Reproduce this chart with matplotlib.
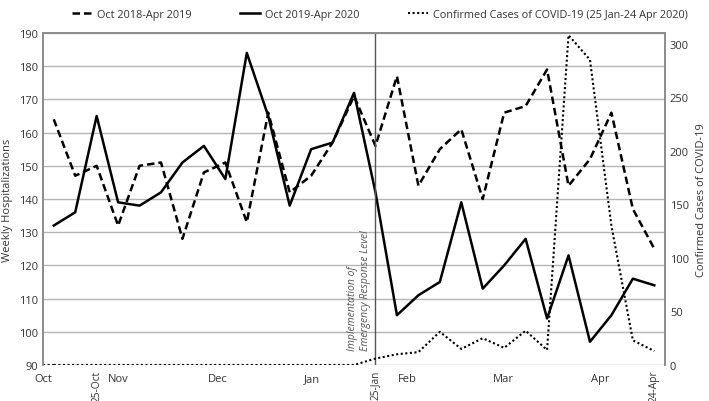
import matplotlib
matplotlib.use("Agg")
import matplotlib.pyplot as plt

plt.rcParams['font.family'] = ['Open Sans', 'DejaVu Sans']
plt.rcParams['font.size'] = 8

# weekly hospitalizations, week index 0..28
hosp_1819 = [164, 147, 150, 132, 150, 151, 128, 148, 151, 133, 166, 142, 147, 157, 171,
             156, 177, 144, 155, 161, 140, 166, 168, 179, 144, 152, 166, 137, 125]
hosp_1920 = [132, 136, 165, 139, 138, 142, 151, 156, 146, 184, 165, 138, 155, 157, 172,
             142, 105, 111, 115, 139, 113, 120, 128, 104, 123, 97, 105, 116, 114]
covid_cases = [0, 0, 0, 0, 0, 0, 0, 0, 0, 0, 0, 0, 0, 0, 0,
               6, 10, 12, 31, 15, 25, 16, 32, 14, 308, 285, 130, 23, 13]

month_pos = [-0.5, 3.0, 7.65, 12.05, 16.5, 20.95, 25.5]
month_labels = ['Oct', 'Nov', 'Dec', 'Jan', 'Feb', 'Mar', 'Apr']
date_pos = [2, 15, 28]
date_labels = ['25-Oct', '25-Jan', '24-Apr']

legend_labels = ['Oct 2018-Apr 2019', 'Oct 2019-Apr 2020',
                 'Confirmed Cases of COVID-19 (25 Jan-24 Apr 2020)']

weeks = list(range(len(hosp_1819)))
txt = '#333333'
spine = '#8c8c8c'

fig = plt.figure(figsize=(7.09, 4.02), dpi=100)
ax = fig.add_axes([0.0607, 0.0896, 0.8773, 0.8258])
ax2 = ax.twinx()

l1, = ax.plot(weeks, hosp_1819, color='black', lw=1.8, linestyle=(0, (3, 1.6)))
l2, = ax.plot(weeks, hosp_1920, color='black', lw=1.8)
l3, = ax2.plot(weeks, covid_cases, color='black', lw=1.5, linestyle=(0, (1, 1.2)))
# zero baseline of the case series runs back to the left edge
ax2.plot([-0.5, 0], [covid_cases[0], covid_cases[0]], color='black', lw=1.5,
         linestyle=(0, (1, 1.2)))

ax.set_xlim(-0.5, 28.5)
ax.set_ylim(90, 190)
ax.set_yticks(range(90, 191, 10))
ax2.set_ylim(0, 310)
ax2.set_yticks(range(0, 301, 50))

ax.yaxis.grid(True, color='#b5b5b5', lw=1)
ax.set_axisbelow(True)

for a in (ax, ax2):
    for s in ('top', 'left', 'right'):
        a.spines[s].set_color(spine)
        a.spines[s].set_linewidth(1.2)
    a.spines['bottom'].set_visible(False)
    a.tick_params(length=0, colors=txt, labelsize=8)

ax.set_xticks(month_pos)
ax.set_xticklabels(month_labels)
ax.tick_params(axis='x', pad=6)
for p, lab in zip(date_pos, date_labels):
    ax.text(p, -0.014, lab, transform=ax.get_xaxis_transform(), rotation=90,
            ha='center', va='top', color=txt, fontsize=7.3)

ax.set_ylabel('Weekly Hospitalizations', color=txt, fontsize=8, labelpad=4)
ax2.set_ylabel('Confirmed Cases of COVID-19', color=txt, fontsize=8, labelpad=5)

ax.axvline(15, color='#555555', lw=1)
ax.text(14.8, 94.5, 'Implementation of\nEmergency Response Level', rotation=90,
        ha='right', va='bottom', multialignment='left', style='italic',
        color='#555555', fontsize=7.5, linespacing=1.3)

fig.legend([l1, l2, l3], legend_labels, loc='center', bbox_to_anchor=(0.536, 0.962),
           ncol=3, frameon=False, fontsize=7.8, handlelength=1.8, handletextpad=0.5,
           columnspacing=4.5, labelcolor=txt)

fig.savefig('out.png', dpi=100)
